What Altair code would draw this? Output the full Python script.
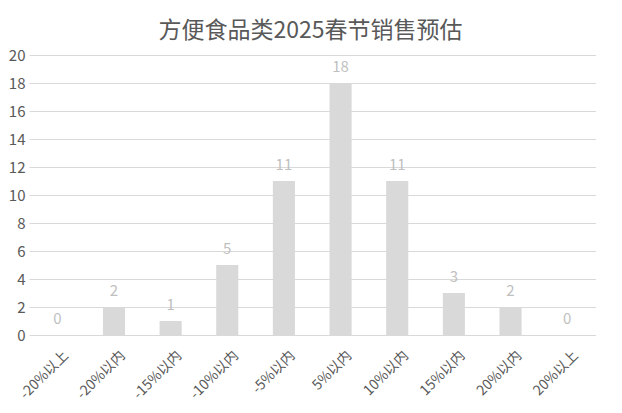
import altair as alt
import pandas as pd

categories = ["-20%以上", "-20%以内", "-15%以内", "-10%以内", "-5%以内",
              "5%以内", "10%以内", "15%以内", "20%以内", "20%以上"]
values = [0, 2, 1, 5, 11, 18, 11, 3, 2, 0]
y_ticks = list(range(0, 21, 2))
title_text = "方便食品类2025春节销售预估"

df = pd.DataFrame({"cat": categories, "val": values})

FONT = "Noto Sans CJK SC"

x_enc = alt.X(
    "cat:N", sort=categories, title=None,
    scale=alt.Scale(paddingInner=0.61, paddingOuter=0.305, range=[-3, 563.5]),
    axis=alt.Axis(labelAngle=-45, labelAlign="right", labelBaseline="middle",
                  ticks=False, domain=False, labelPadding=18, labelOffset=9,
                  labelFontSize=14, labelColor="#595959", labelFont=FONT,
                  grid=False, labelOverlap=False),
)
y_enc = alt.Y(
    "val:Q", title=None,
    scale=alt.Scale(domain=[0, 20], nice=False),
    axis=alt.Axis(values=y_ticks, grid=True, gridColor="#d9d9d9",
                  domain=False, ticks=False, labelPadding=7, labelFontSize=15,
                  labelColor="#595959", labelFont=FONT, labelOverlap=False),
)

base = alt.Chart(df).encode(x=x_enc, y=y_enc)
bars = base.mark_bar(color="#d9d9d9")
labels = base.mark_text(
    dy=-11, baseline="alphabetic", fontSize=15, color="#bfbfbf", font=FONT
).encode(text="val:Q")

chart = (bars + labels).properties(
    width=573, height=280,
    background="white",
    title=alt.TitleParams(title_text, fontSize=23, color="#595959", font=FONT,
                          fontWeight="normal", anchor="middle", offset=5, dx=-8),
    autosize=alt.AutoSizeParams(type="none"),
    padding={"left": 24, "top": 47, "right": 1, "bottom": 69},
).configure_view(stroke=None)

chart.save("out.html", embed_options={"renderer": "svg", "actions": False})
